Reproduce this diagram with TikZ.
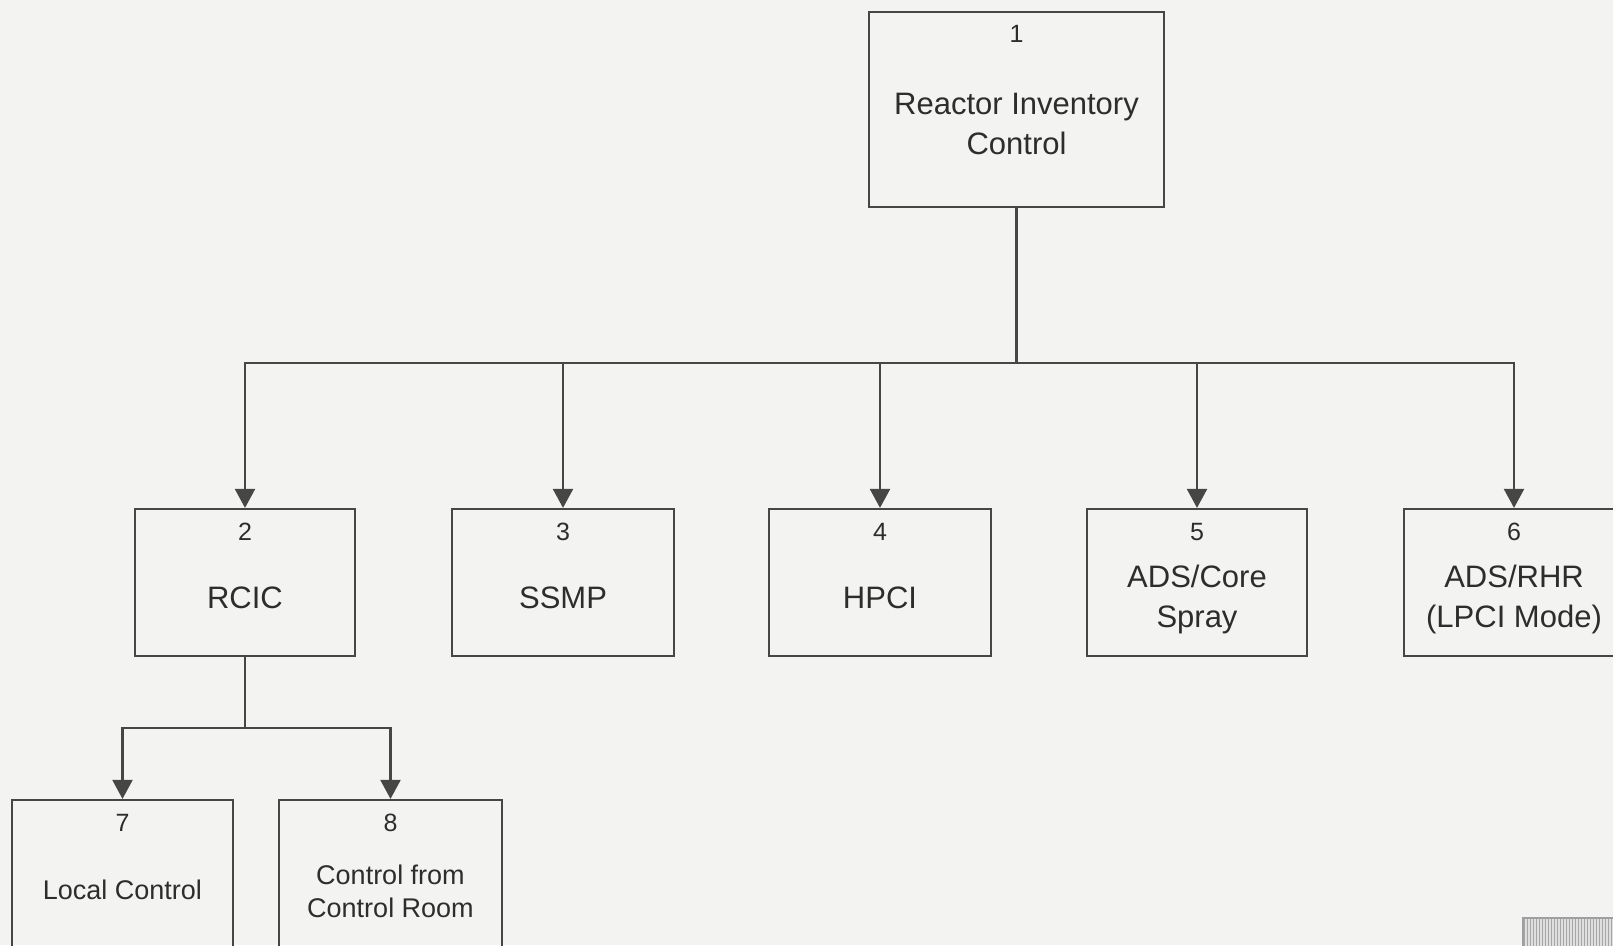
\documentclass[tikz,border=0pt]{standalone}
\usepackage{fontspec}
\setmainfont{Liberation Sans}
\usetikzlibrary{arrows.meta,patterns}
\definecolor{paper}{RGB}{243,243,241}
\definecolor{ink}{RGB}{70,70,70}
\definecolor{txt}{RGB}{45,45,45}
\tikzset{
  box/.style={draw=ink, line width=2.2pt, fill=none, inner sep=0pt},
  num/.style={text=txt, font=\fontsize{25}{28}\selectfont, inner sep=0pt},
  lab/.style={text=txt, font=\fontsize{31}{40}\selectfont, align=center, inner sep=0pt},
  slab/.style={text=txt, font=\fontsize{27}{33}\selectfont, align=center, inner sep=0pt},
  link/.style={draw=ink, line width=2.2pt},
  arr/.style={link, -{Triangle[width=20pt,length=19pt]}}
}
\begin{document}
\begin{tikzpicture}[x=1pt,y=-1pt]
\useasboundingbox (0,0) rectangle (1613,945);
\fill[paper] (0,0) rectangle (1613,945);
\clip (0,0) rectangle (1613,945);
% boxes
\node[box, minimum width=295pt, minimum height=195pt] (b1) at (1016.5,109.5) {};
\node[box, minimum width=220pt, minimum height=147pt] (b2) at (245,582.5) {};
\node[box, minimum width=222pt, minimum height=147pt] (b3) at (563,582.5) {};
\node[box, minimum width=222pt, minimum height=147pt] (b4) at (880,582.5) {};
\node[box, minimum width=220pt, minimum height=147pt] (b5) at (1197,582.5) {};
\node[box, minimum width=220pt, minimum height=147pt] (b6) at (1514,582.5) {};
\node[box, minimum width=221pt, minimum height=160pt] (b7) at (122.5,880) {};
\node[box, minimum width=223pt, minimum height=160pt] (b8) at (390.5,880) {};
% texts
\node[num] (n1) at (1016.5,34) {1};
\node[lab] (t1) at (1016.5,124) {Reactor Inventory\\Control};
\node[num] (n2) at (245,532) {2};
\node[lab] (t2) at (245,598) {RCIC};
\node[num] (n3) at (563,532) {3};
\node[lab] (t3) at (563,598) {SSMP};
\node[num] (n4) at (880,532) {4};
\node[lab] (t4) at (880,598) {HPCI};
\node[num] (n5) at (1197,532) {5};
\node[lab] (t5) at (1197,599) {ADS/Core\\Spray};
\node[num] (n6) at (1514,532) {6};
\node[lab] (t6) at (1514,599) {ADS/RHR\\(LPCI Mode)};
\node[num] (n7) at (122.5,823) {7};
\node[slab] (t7) at (122.5,890) {Local Control};
\node[num] (n8) at (390.5,823) {8};
\node[slab] (t8) at (390.5,891) {Control from\\Control Room};
% connectors
\coordinate (j1) at (1016.5,363);
\coordinate (j2) at (245,728);
\draw[link] (b1.south) -- (j1);
\draw[arr] (j1) -| (b2.north);
\draw[arr] (j1) -| (b3.north);
\draw[arr] (j1) -| (b4.north);
\draw[arr] (j1) -| (b5.north);
\draw[arr] (j1) -| (b6.north);
\draw[link] (b2.south) -- (j2);
\draw[arr] (j2) -| (b7.north);
\draw[arr] (j2) -| (b8.north);
% gray patch bottom right
\fill[gray!25] (1523,918) rectangle (1630,960);
\fill[pattern=vertical lines, pattern color=gray!70] (1523,918) rectangle (1630,960);
\draw[gray!75, line width=1.5pt] (1523,918) rectangle (1630,960);
\end{tikzpicture}
\end{document}
